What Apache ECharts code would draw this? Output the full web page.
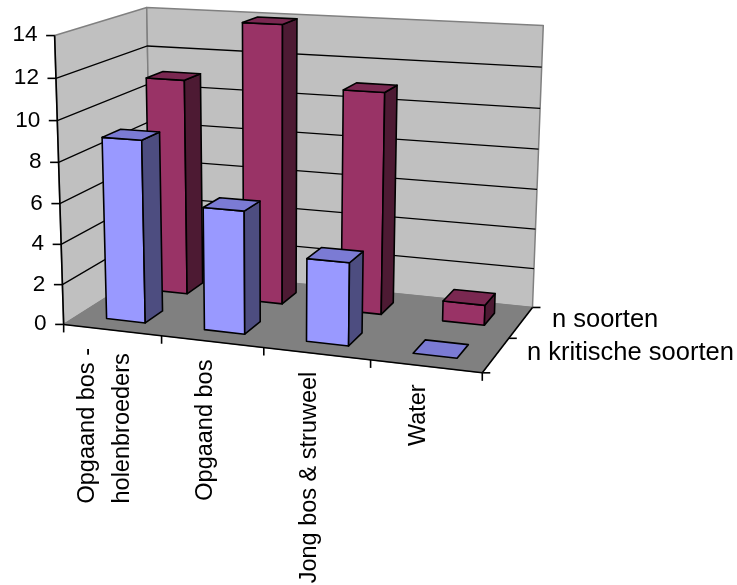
<!DOCTYPE html>
<html><head><meta charset="utf-8">
<script src="https://cdn.jsdelivr.net/npm/echarts@6/dist/echarts.min.js"></script>
<style>html,body{margin:0;padding:0;background:#fff}#c{width:737px;height:585px}</style>
</head><body><div id="c"></div>
<script>
// ---- data ----
const categories = ['Opgaand bos -\nholenbroeders', 'Opgaand bos', 'Jong bos & struweel', 'Water'];
const seriesNames = ['n kritische soorten', 'n soorten'];
const kritischeSoorten = [9, 6, 4, 0];
const soorten = [11, 14, 11, 1];
const yTicks = [0, 2, 4, 6, 8, 10, 12, 14];
const yMax = 14;

// ---- frame calibration: screen corners of the 3D box (normalized world X,Y,Z in 0..1) ----
const calib = [
  [[0,0,0],[65,322.5]], [[0,1,0],[53.5,35.5]],
  [[0,0,1],[150,271]],  [[0,1,1],[148,7]],
  [[1,0,1],[533,305]],  [[1,1,1],[543,26]],
  [[1,0,0],[482,375]]
];
function solveCamera(pts){
  const rows=[], rhs=[];
  pts.forEach(([[X,Y,Z],[u,v]])=>{
    rows.push([X,Y,Z,1,0,0,0,0,-u*X,-u*Y,-u*Z]); rhs.push(u);
    rows.push([0,0,0,0,X,Y,Z,1,-v*X,-v*Y,-v*Z]); rhs.push(v);
  });
  const n=11, M=[];
  for(let i=0;i<n;i++) M.push(new Array(n+1).fill(0));
  for(let r=0;r<rows.length;r++){
    for(let i=0;i<n;i++){
      for(let j=0;j<n;j++) M[i][j]+=rows[r][i]*rows[r][j];
      M[i][n]+=rows[r][i]*rhs[r];
    }
  }
  for(let c=0;c<n;c++){
    let p=c; for(let r=c+1;r<n;r++) if(Math.abs(M[r][c])>Math.abs(M[p][c])) p=r;
    const tmp=M[c]; M[c]=M[p]; M[p]=tmp;
    for(let r=0;r<n;r++){ if(r===c) continue; const f=M[r][c]/M[c][c]; for(let k=c;k<=n;k++) M[r][k]-=f*M[c][k]; }
  }
  return M.map((row,i)=>row[n]/row[i]);
}
const P = solveCamera(calib);
function proj(X,Y,Z){
  const w=P[8]*X+P[9]*Y+P[10]*Z+1;
  return [(P[0]*X+P[1]*Y+P[2]*Z+P[3])/w,(P[4]*X+P[5]*Y+P[6]*Z+P[7])/w];
}

const FONT = '"Liberation Sans", Arial, sans-serif';
const mctx = document.createElement('canvas').getContext('2d');
function textLen(s, size){ mctx.font = size+'px '+FONT; return mctx.measureText(s).width; }

const nRows = seriesNames.length;
const gapFrac = 0.4; // bar width / category width

function norm(params, api, i, v){
  const cs = params.coordSys;
  const top = api.coord([i, v]), base = api.coord([i, 0]);
  const band = api.size([1, 0])[0];
  return { cx:(base[0]-cs.x)/cs.width, bw:band*gapFrac/cs.width, h:(base[1]-top[1])/cs.height, band:band/cs.width };
}
function poly(pts, fill, stroke, lw){
  return {type:'polygon', shape:{points:pts}, style:{fill:fill, stroke:stroke||'none', lineWidth:lw||0, lineJoin:'round'}};
}
function line(a, b, stroke, lw){
  return {type:'line', shape:{x1:a[0],y1:a[1],x2:b[0],y2:b[1]}, style:{stroke:stroke, lineWidth:lw}};
}

function barSeries(name, values, row, colors, z){
  return {
    type:'custom', name:name, coordinateSystem:'cartesian2d', z:z, silent:true,
    data: values.map((v,i)=>[i,v]),
    renderItem(params, api){
      const i=api.value(0), v=api.value(1);
      const n = norm(params, api, i, v);
      const x0=n.cx-n.bw/2, x1=n.cx+n.bw/2;
      const zc=(row+0.5)/nRows, bd=gapFrac/nRows;
      const z0=zc-bd/2, z1=zc+bd/2, y1=n.h;
      const ch=[];
      if (y1>0.0005){
        ch.push(poly([proj(x0,0,z0),proj(x1,0,z0),proj(x1,y1,z0),proj(x0,y1,z0)], colors[0], '#000', 1.6));
        ch.push(poly([proj(x1,0,z0),proj(x1,0,z1),proj(x1,y1,z1),proj(x1,y1,z0)], colors[2], '#000', 1.6));
      }
      ch.push(poly([proj(x0,y1,z0),proj(x1,y1,z0),proj(x1,y1,z1),proj(x0,y1,z1)], colors[1], '#000', 1.6));
      return {type:'group', children:ch};
    }
  };
}

const option = {
  animation:false,
  backgroundColor:'#ffffff',
  grid:{left:0, right:0, top:0, bottom:0},
  xAxis:{type:'category', data:categories, show:false},
  yAxis:{type:'value', min:0, max:yMax, interval:2, show:false},
  series:[
    { // walls and floor
      type:'custom', name:'frame', coordinateSystem:'cartesian2d', z:1, silent:true,
      data:[[0,0]],
      renderItem(){
        const g='#808080';
        return {type:'group', children:[
          poly([proj(0,0,0),proj(0,1,0),proj(0,1,1),proj(0,0,1)], '#c0c0c0', g, 1.5),
          poly([proj(0,0,1),proj(0,1,1),proj(1,1,1),proj(1,0,1)], '#c0c0c0', g, 1.5),
          poly([proj(0,0,0),proj(1,0,0),proj(1,0,1),proj(0,0,1)], '#808080', g, 1)
        ]};
      }
    },
    { // gridlines, value ticks and labels
      type:'custom', name:'valueAxis', coordinateSystem:'cartesian2d', z:2, silent:true,
      data: yTicks.map(t=>[0,t]),
      renderItem(params, api){
        const cs=params.coordSys, t=api.value(1);
        const pt=api.coord([0,t]), p0=api.coord([0,0]);
        const Y=(p0[1]-pt[1])/cs.height;
        const a=proj(0,Y,0), b=proj(0,Y,1), c=proj(1,Y,1);
        const ch=[];
        if (t>0 && t<yMax){
          ch.push({type:'polyline', shape:{points:[a,b,c]}, style:{stroke:'#000', lineWidth:1.3, fill:'none'}});
        }
        if (params.dataIndex===0){
          ch.push(line(proj(0,0,0), proj(0,1,0), '#000', 1.6));
        }
        ch.push(line([a[0]-8.5,a[1]], a, '#000', 1.6));
        ch.push({type:'text', x:a[0]-17, y:a[1], scaleX:1.05,
          style:{text:String(t), fill:'#000', fontSize:21.5, fontFamily:FONT, align:'right', verticalAlign:'middle'}});
        return {type:'group', children:ch};
      }
    },
    { // category axis line, ticks, labels
      type:'custom', name:'categoryAxis', coordinateSystem:'cartesian2d', z:3, silent:true,
      data: categories.map((c,i)=>[i,0]),
      renderItem(params, api){
        const i=api.value(0);
        const n=norm(params, api, i, 0);
        const ch=[];
        if (params.dataIndex===0) ch.push(line(proj(0,0,0), proj(1,0,0), '#000', 1.6));
        const tl=proj(n.cx-n.band/2,0,0);
        ch.push(line(tl,[tl[0],tl[1]+8],'#000',1.6));
        if (i===categories.length-1){ const tr=proj(n.cx+n.band/2,0,0); ch.push(line(tr,[tr[0],tr[1]+8],'#000',1.6)); }
        const c=proj(n.cx,0,0);
        const lines=categories[i].split('\n');
        const fs=23.5, lh=35;
        const maxLen=Math.max.apply(null, lines.map(s=>textLen(s,fs)));
        const topY=c[1]+18;
        lines.forEach((s,k)=>{
          ch.push({type:'text', x:c[0]-7+(k-(lines.length-1)/2)*lh, y:topY+maxLen, rotation:Math.PI/2,
            style:{text:s, fill:'#000', fontSize:fs, fontFamily:FONT, align:'left', verticalAlign:'middle'}});
        });
        return {type:'group', children:ch};
      }
    },
    { // depth (series) axis
      type:'custom', name:'seriesAxis', coordinateSystem:'cartesian2d', z:3, silent:true,
      data: seriesNames.map((s,r)=>[0,0]),
      renderItem(params, api){
        const r=params.dataIndex;
        const ch=[];
        if (r===0) ch.push(line(proj(1,0,0), proj(1,0,1), '#000', 1.6));
        const f=proj(1,0,r/nRows);
        ch.push(line(f,[f[0]+8,f[1]],'#000',1.6));
        if (r===nRows-1){ const b=proj(1,0,1); ch.push(line(b,[b[0]+8,b[1]],'#000',1.6)); }
        const m=proj(1,0,(r+0.5)/nRows);
        ch.push({type:'text', x:m[0]+31, y:m[1]-2, style:{text:seriesNames[r], fill:'#000', fontSize:25.5, fontFamily:FONT, align:'left', verticalAlign:'middle'}});
        return {type:'group', children:ch};
      }
    },
    barSeries(seriesNames[1], soorten, 1, ['#993366','#7a2851','#4d1a33'], 4),
    barSeries(seriesNames[0], kritischeSoorten, 0, ['#9999ff','#7b7bd4','#4d4d80'], 5)
  ]
};
const chart = echarts.init(document.getElementById('c'), null, {renderer:'canvas', width:737, height:585});
chart.setOption(option);
</script>
</body></html>
